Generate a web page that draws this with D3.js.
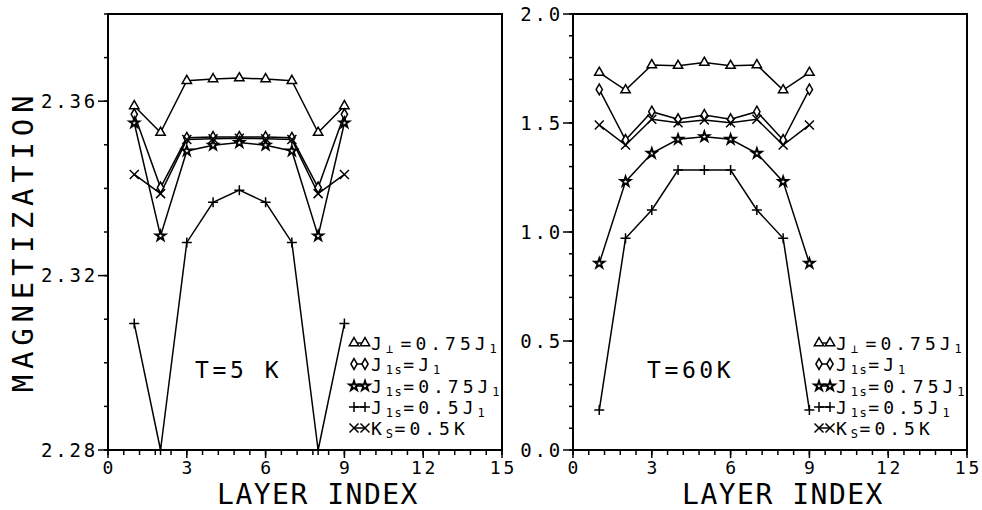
<!DOCTYPE html>
<html>
<head>
<meta charset="utf-8">
<script src="https://cdn.jsdelivr.net/npm/d3@7"></script>
<style>
body { margin: 0; background: #fff; }
svg text { font-family: "DejaVu Sans Mono", monospace; fill: #000; font-variant-numeric: slashed-zero; font-feature-settings: "zero" 1; }
</style>
</head>
<body>
<script>
// layer index 1..9
var layers = [1,2,3,4,5,6,7,8,9];

// T = 5 K
var lowPerp  = [2.3589,2.3528,2.3647,2.3651,2.3653,2.3651,2.3647,2.3528,2.3589];
var lowJ1s   = [2.3570,2.3402,2.3516,2.3518,2.3518,2.3518,2.3516,2.3402,2.3570];
var lowJ075  = [2.3550,2.3291,2.3486,2.3499,2.3505,2.3499,2.3486,2.3291,2.3550];
var lowJ05   = [2.3090,2.2800,2.3276,2.3368,2.3396,2.3368,2.3276,2.2800,2.3090];
var lowKs    = [2.3432,2.3388,2.3512,2.3514,2.3515,2.3514,2.3512,2.3388,2.3432];

// T = 60 K
var highPerp = [1.731,1.651,1.766,1.763,1.777,1.763,1.766,1.651,1.731];
var highJ1s  = [1.654,1.422,1.552,1.517,1.537,1.517,1.552,1.422,1.654];
var highJ075 = [0.856,1.231,1.361,1.425,1.437,1.425,1.361,1.231,0.856];
var highJ05  = [0.183,0.971,1.101,1.284,1.284,1.284,1.101,0.971,0.183];
var highKs   = [1.491,1.399,1.517,1.501,1.514,1.501,1.517,1.399,1.491];

var xTicks = [0,3,6,9,12,15];
var lowTicks = [2.28,2.32,2.36];
var highTicks = [0.0,0.5,1.0,1.5,2.0];

var w = 982, h = 510;
var svg = d3.select("body").append("svg")
  .attr("width", w).attr("height", h);

var defs = svg.append("defs");

function marker(g, kind, x, y) {
  var p;
  if (kind == "tri") {
    p = d3.symbol().type(d3.symbolTriangle).size(38)();
  } else if (kind == "dia") {
    p = d3.symbol().type(d3.symbolDiamond).size(34)();
  } else if (kind == "star") {
    p = d3.symbol().type(d3.symbolStar).size(29)();
  } else if (kind == "plus") {
    p = "M-5,0H5M0,-5V5";
  } else {
    p = "M-4.5,-4.5L4.5,4.5M-4.5,4.5L4.5,-4.5";
  }
  g.append("path")
    .attr("d", p)
    .attr("transform", "translate(" + x + "," + y + ")")
    .attr("fill", (kind == "plus" || kind == "x") ? "none" : "#fff")
    .attr("stroke", "#000")
    .attr("stroke-width", kind == "star" ? 1.9 : 1.5);
}

function panel(id, left, yDomain, yMajor, yMinorStep, series, tLabel, tx, fmt) {
  var top = 14, bottom = 450, pw = 394;
  var x = d3.scaleLinear().domain([0,15]).range([left, left + pw]);
  var y = d3.scaleLinear().domain(yDomain).range([bottom, top]);
  var g = svg.append("g");

  defs.append("clipPath").attr("id", id)
    .append("rect").attr("x", left).attr("y", 0).attr("width", pw + 1).attr("height", h);

  // frame
  g.append("rect")
    .attr("x", left).attr("y", top).attr("width", pw).attr("height", bottom - top)
    .attr("fill", "none").attr("stroke", "#000").attr("stroke-width", 2);

  // y axis ticks
  var minor = d3.range(yDomain[0], yDomain[1] + yMinorStep / 2, yMinorStep);
  g.selectAll(".ymin").data(minor).enter().append("line")
    .attr("x1", left - 4).attr("x2", left)
    .attr("y1", function(d){ return y(d); }).attr("y2", function(d){ return y(d); })
    .attr("stroke", "#000").attr("stroke-width", 1.5);
  g.selectAll(".ymaj").data(yMajor).enter().append("line")
    .attr("x1", left - 10).attr("x2", left)
    .attr("y1", function(d){ return y(d); }).attr("y2", function(d){ return y(d); })
    .attr("stroke", "#000").attr("stroke-width", 1.5);
  g.selectAll(".ylab").data(yMajor).enter().append("text")
    .attr("x", left - 10).attr("y", function(d){ return y(d); })
    .attr("dy", "0.36em")
    .attr("text-anchor", "end")
    .attr("font-size", 19).attr("letter-spacing", 2.8)
    .text(function(d){ return d3.format(fmt)(d); });

  // x axis ticks
  var xMinor = d3.range(0, 15.01, 0.6);
  g.selectAll(".xmin").data(xMinor).enter().append("line")
    .attr("x1", function(d){ return x(d); }).attr("x2", function(d){ return x(d); })
    .attr("y1", bottom).attr("y2", bottom + 5)
    .attr("stroke", "#000").attr("stroke-width", 1.5);
  g.selectAll(".xmaj").data(xTicks).enter().append("line")
    .attr("x1", function(d){ return x(d); }).attr("x2", function(d){ return x(d); })
    .attr("y1", bottom).attr("y2", bottom + 8)
    .attr("stroke", "#000").attr("stroke-width", 1.5);
  g.selectAll(".xlab").data(xTicks).enter().append("text")
    .attr("x", function(d){ return x(d) + 1.4; }).attr("y", 474)
    .attr("text-anchor", "middle")
    .attr("font-size", 18).attr("letter-spacing", 2.8)
    .text(function(d){ return d; });

  g.append("text")
    .attr("x", left + pw / 2 + 13).attr("y", 504)
    .attr("text-anchor", "middle")
    .attr("font-size", 28).attr("letter-spacing", 1.5)
    .text("LAYER INDEX");

  // data
  var line = d3.line()
    .x(function(d, i){ return x(layers[i]); })
    .y(function(d){ return y(d); });

  series.forEach(function(s) {
    g.append("path")
      .attr("d", line(s.values))
      .attr("fill", "none").attr("stroke", "#000").attr("stroke-width", 1.5);
  });
  series.forEach(function(s) {
    s.values.forEach(function(v, i) {
      marker(g, s.kind, x(layers[i]), y(v));
    });
  });

  // temperature label
  g.append("text")
    .attr("x", tx).attr("y", 378)
    .attr("font-size", 23).attr("letter-spacing", 3.6)
    .text(tLabel);

  // legend
  var lg = g.append("g").attr("clip-path", "url(#" + id + ")");
  var rows = [343, 364, 386, 407, 428];
  series.forEach(function(s, i) {
    var ly = rows[i];
    var sx = left + 246;
    lg.append("line")
      .attr("x1", sx).attr("x2", sx + 11).attr("y1", ly).attr("y2", ly)
      .attr("stroke", "#000").attr("stroke-width", 1.5);
    marker(lg, s.kind, sx, ly);
    marker(lg, s.kind, sx + 11, ly);
    var t = lg.append("text")
      .attr("x", left + 263).attr("y", ly + 7)
      .attr("font-size", 18).attr("letter-spacing", 4);
    s.label.forEach(function(part) {
      var ts = t.append("tspan").text(part[0]);
      if (part[1] == "sub") {
        ts.attr("font-size", 12).attr("letter-spacing", 1.5).attr("dy", 3);
      } else if (part[1] == "up") {
        ts.attr("dy", -3);
      } else if (part[1] == "gap") {
        ts.attr("dy", -3).attr("dx", 6);
      }
    });
  });
}

function labels() {
  return [
    [["J",""],["\u22a5","sub"],["=0.75J","gap"],["1","sub"]],
    [["J",""],["1s","sub"],["=J","up"],["1","sub"]],
    [["J",""],["1s","sub"],["=0.75J","up"],["1","sub"]],
    [["J",""],["1s","sub"],["=0.5J","up"],["1","sub"]],
    [["K",""],["S","sub"],["=0.5K","up"]]
  ];
}

var lab = labels();
var kinds = ["tri","dia","star","plus","x"];

var lowSeries = [lowPerp, lowJ1s, lowJ075, lowJ05, lowKs].map(function(v, i){
  return {values: v, kind: kinds[i], label: lab[i]};
});
var highSeries = [highPerp, highJ1s, highJ075, highJ05, highKs].map(function(v, i){
  return {values: v, kind: kinds[i], label: lab[i]};
});

panel("clipL", 108, [2.28, 2.38], lowTicks, 0.01, lowSeries, "T=5 K", 195, ".2f");
panel("clipR", 573, [0, 2.0], highTicks, 0.1, highSeries, "T=60K", 647, ".1f");

svg.append("text")
  .attr("transform", "translate(33,241) rotate(-90)")
  .attr("text-anchor", "middle")
  .attr("font-size", 29).attr("letter-spacing", 5.8)
  .text("MAGNETIZATION");
</script>
</body>
</html>
